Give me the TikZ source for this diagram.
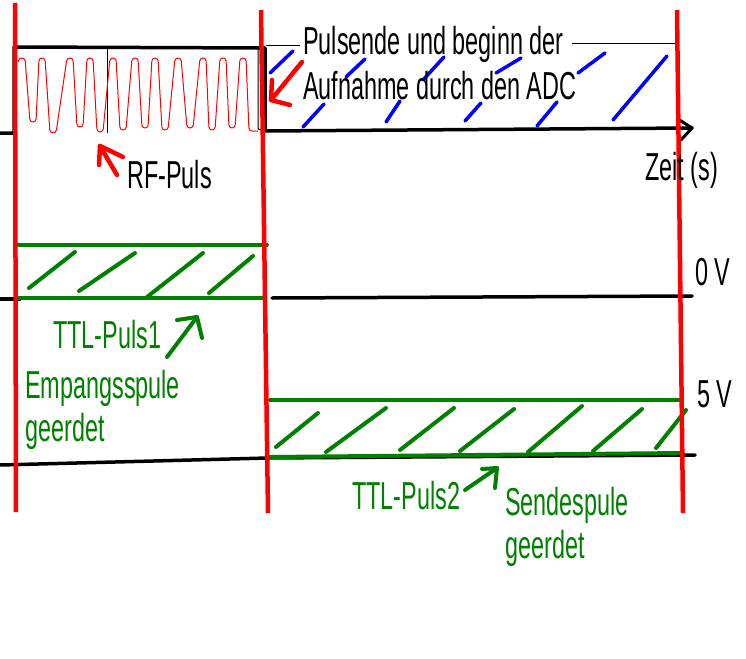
\documentclass[tikz,border=0pt]{standalone}
\usepackage{fontspec}
\setmainfont{Liberation Sans}[FakeStretch=0.6]
\definecolor{pgreen}{RGB}{0,128,0}
\definecolor{pred}{RGB}{255,0,0}
\definecolor{pblue}{RGB}{0,0,255}
\begin{document}
\begin{tikzpicture}[x=1pt,y=-1pt,
  lbl/.style={anchor=base west,inner sep=0pt,font=\fontsize{39}{44}\selectfont},
  blackline/.style={draw=black,line width=3.5pt,line cap=round,line join=round},
  thinline/.style={draw=black,line width=1pt},
  greenline/.style={draw=pgreen,line width=4pt,line cap=round},
  hatchg/.style={draw=pgreen,line width=4pt,line cap=round},
  hatchb/.style={draw=pblue,line width=3.5pt,line cap=round},
  redline/.style={draw=pred,line width=4.5pt},
  redarrow/.style={draw=pred,line width=4.5pt,line cap=round,line join=round},
  greenarrow/.style={draw=pgreen,line width=4pt,line cap=round,line join=round}]
\useasboundingbox[fill=white] (0,0) rectangle (746,658);

% ---- top signal (black) ----
\coordinate (a0) at (0,133);
\coordinate (a1) at (14,133);
\coordinate (a2) at (14,47);
\coordinate (a3) at (265,48);
\coordinate (a4) at (265,131);
\coordinate (a5) at (692,128);
\draw[blackline] (a0) -- (a1) -- (a2) -- (a3) -- (a4) -- (a5);
\coordinate (ah1) at (678,119);
\coordinate (ah2) at (681,140);
\draw[blackline,line width=3pt] (ah1) -- (a5) -- (ah2);
% thin details
\coordinate (t1) at (107,47); \coordinate (t2) at (107,133);
\draw[thinline] (t1) -- (t2);
\coordinate (t3) at (258,48); \coordinate (t4) at (258,129);
\draw[thinline] (t3) -- (t4) -- (a4);
\coordinate (t5) at (266,46); \coordinate (t6) at (300,46);
\draw[thinline] (t5) -- (t6);
\coordinate (t7) at (572,44); \coordinate (t8) at (677,44);
\draw[thinline] (t7) -- (t8);

% ---- RF pulse ----
\draw[pred,line width=1pt,rounded corners=3pt] (18,62)
  foreach \t/\b/\d in {22/33/122,42/53/133,70/80/127,90/100/132,113/123/130,135/145/128,155/165/130,178/190/128,203/212/130,223/232/128,243/252/131}
  { -- ({\t-3},58) -- ({\t+3},58) -- ({\b-3},\d) -- ({\b+3},\d) } -- (258,131);

% ---- blue hatches ----
\foreach \xa/\ya/\xb/\yb in {270/73/293/51,346/77/365/59,423/80/444/57,496/73/521/58,578/73/605/53,613/120/667/56,303/127/324/104,386/122/400/101,465/121/481/103,537/126/557/102}
  \draw[hatchb] (\xa,\ya) -- (\xb,\yb);

% ---- 0 V baseline ----
\coordinate (z0) at (0,299);
\coordinate (z1) at (20,299);
\draw[blackline] (z0) -- (z1);
\coordinate (z2) at (272,298);
\coordinate (z3) at (692,296);
\draw[blackline] (z2) -- (z3);

% ---- TTL pulse 1 (green) ----
\coordinate (g1a) at (18,245); \coordinate (g1b) at (267,245);
\coordinate (g1c) at (18,298); \coordinate (g1d) at (265,298);
\draw[greenline] (g1a) -- (g1b);
\draw[greenline] (g1c) -- (g1d);
\foreach \xa/\ya/\xb/\yb in {29/288/75/252,79/291/135/253,147/297/203/253,209/293/253/256}
  \draw[hatchg] (\xa,\ya) -- (\xb,\yb);

% ---- 5 V baseline ----
\coordinate (f0) at (0,465);
\coordinate (f1) at (268,458);
\coordinate (f2) at (695,455);
\draw[blackline] (f0) -- (f1) -- (f2);

% ---- TTL pulse 2 (green) ----
\coordinate (g2a) at (270,400); \coordinate (g2b) at (680,400);
\coordinate (g2c) at (270,457); \coordinate (g2d) at (682,453);
\draw[greenline] (g2a) -- (g2b);
\draw[greenline] (g2c) -- (g2d);
\foreach \xa/\ya/\xb/\yb in {276/447/318/413,326/452/386/408,400/450/454/408,460/451/514/409,528/452/582/406,593/451/642/409,656/448/686/410}
  \draw[hatchg] (\xa,\ya) -- (\xb,\yb);

% ---- red vertical lines ----
\coordinate (r1a) at (15,3);   \coordinate (r1b) at (16,512);
\coordinate (r2a) at (261,10); \coordinate (r2b) at (268,513);
\coordinate (r3a) at (677,10); \coordinate (r3b) at (683,513);
\draw[redline] (r1a) -- (r1b);
\draw[redline] (r2a) -- (r2b);
\draw[redline] (r3a) -- (r3b);

% ---- labels ----
\node[lbl] (pulsende) at (303,55) {Pulsende und beginn der};
\node[lbl] (aufnahme) at (303,100) {Aufnahme durch den ADC};
\node[lbl] (zeit) at (645,180) {Zeit (s)};
\node[lbl] (rf) at (127,188) {RF-Puls};
\node[lbl] (zero) at (695,285) {0 V};
\node[lbl] (five) at (697,407) {5 V};
\node[lbl,text=pgreen] (ttl1) at (53,348) {TTL-Puls1};
\node[lbl,text=pgreen] (empf) at (25,398) {Empangsspule};
\node[lbl,text=pgreen] (geerdet1) at (25,441) {geerdet};
\node[lbl,text=pgreen] (ttl2) at (352,509) {TTL-Puls2};
\node[lbl,text=pgreen] (sende) at (505,515) {Sendespule};
\node[lbl,text=pgreen] (geerdet2) at (505,558) {geerdet};

% ---- annotation arrows ----
\coordinate (rfTail) at (117,175); \coordinate (rfTip) at (100,146);
\coordinate (rfH1) at (99,165);    \coordinate (rfH2) at (123,157);
\draw[redarrow] (rfTail) -- (rfTip);
\draw[redarrow] (rfH1) -- (rfTip) -- (rfH2);

\coordinate (adcTail) at (302,62); \coordinate (adcTip) at (271,100);
\coordinate (adcH1) at (272,80);   \coordinate (adcH2) at (290,105);
\draw[redarrow] (adcTail) -- (adcTip);
\draw[redarrow] (adcH1) -- (adcTip) -- (adcH2);

\coordinate (t1Tail) at (167,357); \coordinate (t1Tip) at (197,317);
\coordinate (t1H1) at (177,320);   \coordinate (t1H2) at (202,338);
\draw[greenarrow] (t1Tail) -- (t1Tip);
\draw[greenarrow] (t1H1) -- (t1Tip) -- (t1H2);

\coordinate (t2Tail) at (465,490); \coordinate (t2Tip) at (497,468);
\coordinate (t2H1) at (482,469);   \coordinate (t2H2) at (495,488);
\draw[greenarrow] (t2Tail) -- (t2Tip);
\draw[greenarrow] (t2H1) -- (t2Tip) -- (t2H2);
\end{tikzpicture}
\end{document}
